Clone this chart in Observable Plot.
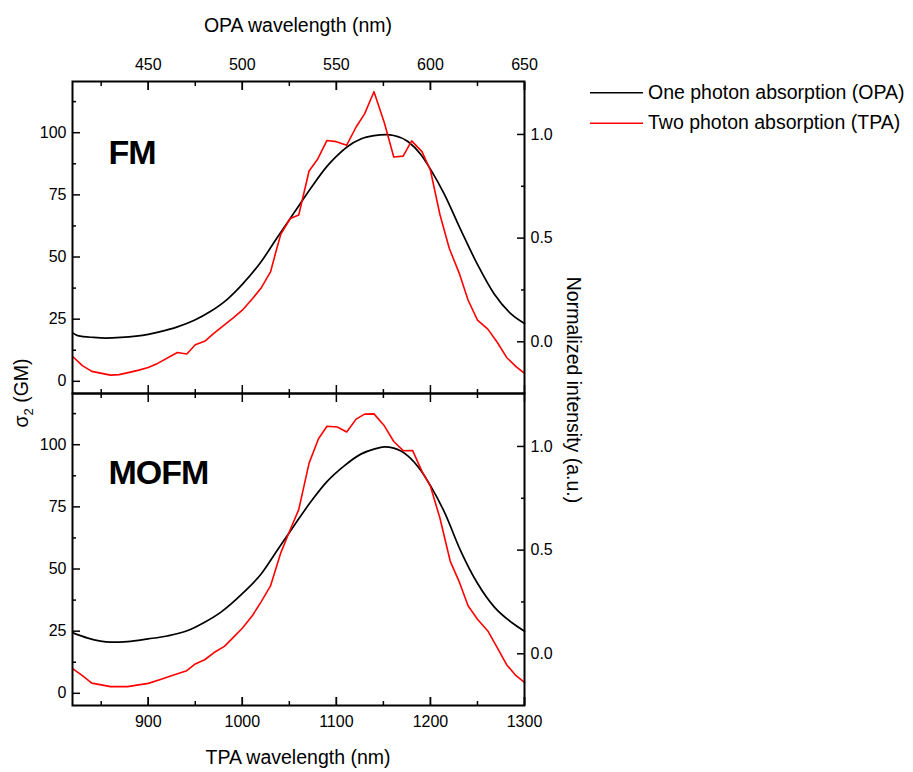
<!DOCTYPE html>
<html><head><meta charset="utf-8">
<script src="https://cdn.jsdelivr.net/npm/d3@7"></script>
<script src="https://cdn.jsdelivr.net/npm/@observablehq/plot@0.6"></script>
<style>
body{margin:0;background:#fff;}
#wrap{position:relative;width:913px;height:772px;font-family:"Liberation Sans",Arial,sans-serif;}
#overlay{position:absolute;left:0;top:0;pointer-events:none;}
#chart svg g[aria-label="text"] text{letter-spacing:-1px;}
</style></head><body>
<div id="wrap"><div id="chart"></div><svg id="overlay" width="913" height="772"></svg></div>
<script>
// ---- data ----
const panels = ["FM", "MOFM"];

const tpaWavelengthFM = [820,830,840,860,869,880,890,900,910,931,941,950,960,970,980,991,1000,1011,1020,1030,1036,1041,1051,1060,1071,1080,1090,1100,1111,1121,1130,1140,1151,1161,1171,1180,1191,1200,1210,1220,1231,1240,1250,1261,1271,1281,1291,1300];
const tpaSigmaFM = [9.9,6.3,4.0,2.5,2.7,3.6,4.5,5.6,7.2,11.6,11.0,14.7,16.1,19.4,22.4,25.7,28.6,33.3,37.5,44.0,52.5,59.2,65.5,66.9,84.6,89.3,96.9,96.4,95.0,102.3,107.6,116.5,104.0,90.2,90.6,96.7,92.4,84.9,67.2,53.5,43.1,32.7,24.6,21.0,15.7,9.6,5.9,3.2];

const opaWavelengthFM = [820,825,842,855,871,900,913,931,949,966,984,1000,1020,1037,1055,1073,1090,1100,1112,1126,1140,1153,1161,1176,1190,1200,1215,1232,1250,1268,1286,1300];
const opaIntensityFM = [0.042,0.030,0.021,0.018,0.021,0.036,0.049,0.072,0.104,0.146,0.205,0.277,0.386,0.502,0.622,0.742,0.846,0.894,0.942,0.978,0.994,0.999,0.995,0.966,0.902,0.833,0.71,0.542,0.373,0.229,0.133,0.088];

const tpaWavelengthMOFM = [820,830,840,860,878,900,913,927,941,950,960,970,981,991,1000,1011,1020,1030,1041,1051,1060,1071,1081,1090,1101,1111,1121,1130,1140,1151,1161,1171,1181,1191,1200,1210,1221,1231,1240,1250,1261,1271,1281,1291,1300];
const tpaSigmaMOFM = [9.8,7.1,4.1,2.7,2.7,4.0,5.6,7.4,9.1,11.8,13.5,16.4,18.9,22.7,26.2,31.4,36.8,43.2,56.6,65.9,73.9,92.6,102.4,107.4,107.1,105.1,110.3,112.3,112.4,107.6,101.3,97.6,97.7,89.3,83.3,70.6,53.2,44.5,35.2,29.8,25.1,18.4,11.5,7.1,4.4];

const opaWavelengthMOFM = [820,835,860,878,900,920,942,959,977,1000,1020,1037,1055,1073,1090,1108,1126,1140,1151,1161,1176,1190,1200,1215,1232,1250,1268,1286,1300];
const opaIntensityMOFM = [0.101,0.077,0.056,0.059,0.072,0.086,0.112,0.150,0.200,0.290,0.385,0.498,0.618,0.734,0.830,0.905,0.963,0.987,0.998,0.992,0.955,0.883,0.811,0.682,0.498,0.340,0.225,0.152,0.109];

// tick labels
const sigmaTicks = [0, 25, 50, 75, 100];
const sigmaMinor = [12.5, 37.5, 62.5, 87.5, 112.5];
const normTicks = [0.0, 0.5, 1.0];
const normMinor = [0.25, 0.75];
const tpaTicks = [900, 1000, 1100, 1200, 1300];
const tpaMinor = [850, 950, 1050, 1150, 1250];
const opaTicks = [450, 500, 550, 600, 650];
const opaMinor = [425, 475, 525, 575, 625];

const legendLabels = ["One photon absorption (OPA)", "Two photon absorption (TPA)"];
const seriesColors = ["#000000", "#ff0000"];
const topTitle = "OPA wavelength (nm)";
const bottomTitle = "TPA wavelength (nm)";
const rightTitle = "Normalized intensity (a.u.)";

// right axis (normalized) expressed in left-axis units
const normOffset = 15.9, normScale = 83.4;
const toLeft = n => normOffset + normScale * n;
const fromLeft = v => (v - normOffset) / normScale;

const tpaRows = [
  ...tpaWavelengthFM.map((w, i) => ({panel: "FM", wl: w, sigma: tpaSigmaFM[i]})),
  ...tpaWavelengthMOFM.map((w, i) => ({panel: "MOFM", wl: w, sigma: tpaSigmaMOFM[i]}))
];
const opaRows = [
  ...opaWavelengthFM.map((w, i) => ({panel: "FM", wl: w, y: toLeft(opaIntensityFM[i])})),
  ...opaWavelengthMOFM.map((w, i) => ({panel: "MOFM", wl: w, y: toLeft(opaIntensityMOFM[i])}))
];

const plot = Plot.plot({
  width: 913, height: 772,
  marginLeft: 72, marginRight: 389, marginTop: 80, marginBottom: 67,
  style: {fontFamily: '"Liberation Sans", Arial, sans-serif', fontSize: "16px", background: "#fff"},
  x: {domain: [819.5, 1300]},
  y: {domain: [-4.9, 120.6]},
  fy: {domain: panels, padding: 0, axis: null, label: null},
  marks: [
    Plot.line(opaRows, {x: "wl", y: "y", fy: "panel", stroke: seriesColors[0], strokeWidth: 1.7, curve: "monotone-x"}),
    Plot.line(tpaRows, {x: "wl", y: "sigma", fy: "panel", stroke: seriesColors[1], strokeWidth: 1.6}),
    Plot.frame({strokeWidth: 2}),
    Plot.axisY(sigmaTicks, {anchor: "left", tickSize: -8, tickPadding: 14, strokeWidth: 1.5, label: null}),
    Plot.axisY(sigmaMinor, {anchor: "left", tickSize: -4, strokeWidth: 1.5, fill: "none", label: null}),
    Plot.axisY(normTicks.map(toLeft), {anchor: "right", tickSize: -8, tickPadding: 14, strokeWidth: 1.5, tickFormat: d => fromLeft(d).toFixed(1), label: null}),
    Plot.axisY(normMinor.map(toLeft), {anchor: "right", tickSize: -4, strokeWidth: 1.5, fill: "none", label: null}),
    Plot.axisX(tpaTicks, {anchor: "bottom", tickSize: -8, tickPadding: 18, strokeWidth: 1.5, tickFormat: d => String(d), label: null}),
    Plot.axisX(tpaTicks, {anchor: "bottom", tickSize: -8, strokeWidth: 1.5, fill: "none", facetAnchor: null, label: null}),
    Plot.axisX(tpaMinor, {anchor: "bottom", tickSize: -4, strokeWidth: 1.5, fill: "none", facetAnchor: null, label: null}),
    Plot.axisX(opaTicks.map(d => d * 2), {anchor: "top", tickSize: -8, tickPadding: 20, strokeWidth: 1.5, tickFormat: d => String(d / 2), label: null}),
    Plot.axisX(opaTicks.map(d => d * 2), {anchor: "top", tickSize: -8, strokeWidth: 1.5, fill: "none", facetAnchor: null, label: null}),
    Plot.axisX(opaMinor.map(d => d * 2), {anchor: "top", tickSize: -4, strokeWidth: 1.5, fill: "none", facetAnchor: null, label: null}),
    Plot.text([panels[0]], {text: d => d, fy: d => d, frameAnchor: "top-left", textAnchor: "start", lineAnchor: "middle", dx: 36, dy: 72, fontSize: 34, fontWeight: "bold"}),
    Plot.text([panels[1]], {text: d => d, fy: d => d, frameAnchor: "top-left", textAnchor: "start", lineAnchor: "middle", dx: 36, dy: 80, fontSize: 34, fontWeight: "bold"})
  ]
});
document.getElementById("chart").appendChild(plot);

// titles and legend
const ov = d3.select("#overlay").attr("font-family", '"Liberation Sans", Arial, sans-serif').attr("fill", "#000");
ov.append("text").attr("x", 298).attr("y", 32).attr("text-anchor", "middle").attr("font-size", 19.5).text(topTitle);
ov.append("text").attr("x", 298).attr("y", 764).attr("text-anchor", "middle").attr("font-size", 19.5).text(bottomTitle);
const lt = ov.append("text").attr("transform", "translate(28,393) rotate(-90)").attr("text-anchor", "middle").attr("font-size", 19.5);
lt.append("tspan").text("σ");
lt.append("tspan").attr("dy", 5).attr("font-size", 13).text("2");
lt.append("tspan").attr("dy", -5).text(" (GM)");
ov.append("text").attr("transform", "translate(567,390) rotate(90)").attr("text-anchor", "middle").attr("font-size", 19.5).text(rightTitle);
const legY = [92.7, 123.3];
legendLabels.forEach((lab, i) => {
  ov.append("line").attr("x1", 590).attr("x2", 643).attr("y1", legY[i]).attr("y2", legY[i]).attr("stroke", seriesColors[i]).attr("stroke-width", 1.5);
  ov.append("text").attr("x", 648).attr("y", legY[i] + 6).attr("font-size", 19.5).text(lab);
});
</script>
</body></html>
